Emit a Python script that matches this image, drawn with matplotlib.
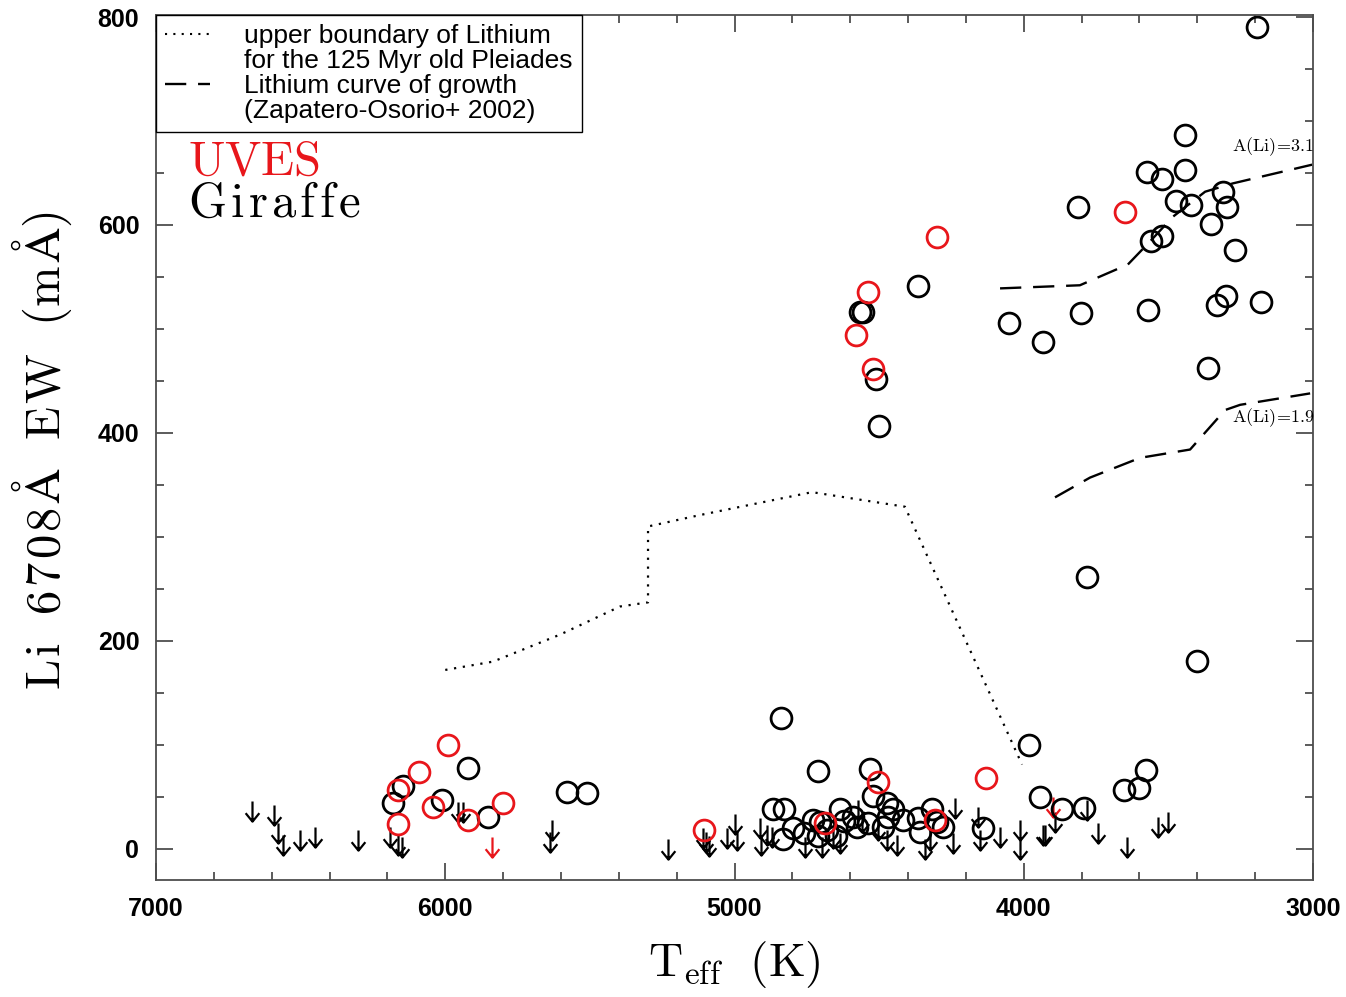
import numpy as np
import matplotlib
matplotlib.use('Agg')
import matplotlib.pyplot as plt
from matplotlib.path import Path
from matplotlib.lines import Line2D
from matplotlib.ticker import MultipleLocator

plt.rcParams['mathtext.fontset'] = 'cm'
plt.rcParams['font.family'] = ['Liberation Sans', 'DejaVu Sans']

# Pleiades upper boundary (dotted)
pleiades_teff = [6000, 5835, 5603, 5396, 5299, 5299, 5119, 4732, 4411, 4006]
pleiades_ew = [172, 180, 206, 233, 237, 310, 321, 343, 329, 81]

# curves of growth (dashed)
cog31_teff = [4082, 3806, 3640, 3564, 3484, 3373, 3277, 3003]
cog31_ew = [539, 542, 562, 584, 608, 632, 640, 658]
cog19_teff = [3892, 3771, 3598, 3425, 3304, 3252, 3010]
cog19_ew = [338, 357, 376, 384, 422, 427, 438]

# Giraffe detections
giraffe_teff = [3194, 3442, 3574, 3522, 3442, 3474, 3422, 3311, 3297, 3353,
                3522, 3560, 3270, 3812, 3802, 3570, 3332, 3301, 3180, 4051,
                3933, 4366, 3363, 3781, 3401, 4566, 4556, 4511, 4500, 4839,
                5921, 6146, 6181, 6011, 5852, 5579, 5510, 4711, 4532, 4521,
                3982, 3944, 3868, 3792, 3653, 3601, 3577,
                4867, 4829, 4798, 4832, 4729, 4706, 4711, 4635, 4590, 4576,
                4473, 4452, 4469, 4487, 4417, 4366, 4359, 4317, 4300, 4279,
                4141, 4760, 4680, 4620, 4540, 4650]
giraffe_ew = [790, 687, 651, 644, 653, 623, 619, 632, 617, 601,
              589, 585, 576, 617, 515, 518, 523, 532, 526, 506,
              487, 541, 462, 261, 181, 516, 516, 452, 407, 126,
              78, 60, 44, 47, 31, 55, 54, 75, 77, 51,
              100, 50, 38, 39, 57, 58, 76,
              38, 38, 20, 9, 28, 26, 12, 38, 31, 21,
              44, 38, 31, 21, 28, 30, 16, 38, 26, 21,
              20, 15, 18, 27, 25, 12]

# UVES detections
uves_teff = [4300, 4538, 4580, 4521, 3650, 4504, 4131, 5990, 6091, 6163,
             6163, 6042, 5921, 5800, 5105, 4687, 4307]
uves_ew = [588, 536, 494, 461, 612, 64, 68, 100, 74, 57,
           24, 40, 28, 44, 18, 25, 28]

# upper limits
giraffe_lim_teff = [6668, 6592, 6578, 6561, 6502, 6450, 6301, 6191, 6163, 6150,
                    5956, 5939, 5631, 5638, 5230, 5109, 5098, 5088, 5026, 4998,
                    4991, 4912, 4908, 4888, 4870, 4756, 4697, 4659, 4635, 4573,
                    4559, 4504, 4473, 4438, 4341, 4324, 4238, 4244, 4158, 4151,
                    4082, 4013, 4013, 3926, 3933, 3892, 3781, 3743, 3643, 3536,
                    3501]
giraffe_lim_ew = [46, 42, 25, 13, 18, 21, 18, 21, 13, 11,
                  45, 45, 28, 16, 9, 20, 16, 12, 20, 33,
                  18, 30, 13, 23, 21, 11, 11, 20, 15, 47,
                  35, 28, 18, 13, 9, 18, 49, 15, 40, 18,
                  21, 28, 9, 23, 23, 35, 47, 25, 11, 31,
                  35]
uves_lim_teff = [5838, 3899]
uves_lim_ew = [11, 50]

legend_labels = ['upper boundary of Lithium', 'for the 125 Myr old Pleiades',
                 'Lithium curve of growth', '(Zapatero-Osorio+ 2002)']

RED = '#e8161b'


def spaced(word, gap):
    # letter-spaced roman mathtext, like the old plotting font
    return (r'\hspace{%g}' % gap).join(word)


# down arrow marker, value at the top of the arrow
arrow = Path([(0, 0), (0, -1), (-0.34, -0.58), (0, -1), (0.34, -0.58)],
             [Path.MOVETO, Path.LINETO, Path.MOVETO, Path.LINETO, Path.LINETO])

fig = plt.figure(figsize=(13.46, 9.97), dpi=100)
ax = fig.add_axes([0.1159, 0.1174, 0.8596, 0.8676])

ax.plot(pleiades_teff, pleiades_ew, color='k', ls=(0, (1, 3)), lw=1.6)
ax.plot(cog31_teff, cog31_ew, color='k', ls=(0, (9, 5)), lw=1.7)
ax.plot(cog19_teff, cog19_ew, color='k', ls=(0, (9, 5)), lw=1.7)

ax.plot(giraffe_lim_teff, giraffe_lim_ew, ls='none', marker=arrow, ms=29,
        mfc='none', mec='k', mew=1.6)
ax.plot(uves_lim_teff, uves_lim_ew, ls='none', marker=arrow, ms=29,
        mfc='none', mec=RED, mew=1.6)
ax.plot(giraffe_teff, giraffe_ew, ls='none', marker='o', ms=15,
        mfc='none', mec='k', mew=2.0)
ax.plot(uves_teff, uves_ew, ls='none', marker='o', ms=15,
        mfc='none', mec=RED, mew=2.0)

ax.text(3280, 675, r'$\mathrm{A(Li)\!=\!3.1}$', fontsize=13, va='center', ha='left')
ax.text(3280, 415, r'$\mathrm{A(Li)\!=\!1.9}$', fontsize=13, va='center', ha='left')

ax.text(0.0277, 0.815, r'$\mathrm{UVES}$', transform=ax.transAxes,
        fontsize=35, color=RED, va='baseline')
ax.text(0.0277, 0.7665, r'$\mathrm{%s}$' % spaced('Giraffe', 0.1),
        transform=ax.transAxes, fontsize=35, color='k', va='baseline')

handles = [Line2D([], [], color='k', ls=(0, (1, 3)), lw=1.5),
           Line2D([], [], color='none'),
           Line2D([], [], color='k', ls=(0, (9, 5)), lw=1.7),
           Line2D([], [], color='none')]
leg = ax.legend(handles, legend_labels, loc='upper left', fontsize=19,
                borderaxespad=0, borderpad=0.35, handlelength=1.7,
                handletextpad=1.3, labelspacing=0.03, fancybox=False,
                framealpha=1)
leg.get_frame().set_edgecolor('k')
leg.get_frame().set_linewidth(1.0)

ax.set_xlim(7000, 3000)
ax.set_ylim(-30, 802)
ax.xaxis.set_major_locator(MultipleLocator(1000))
ax.xaxis.set_minor_locator(MultipleLocator(200))
ax.yaxis.set_major_locator(MultipleLocator(200))
ax.yaxis.set_minor_locator(MultipleLocator(50))
ax.tick_params(which='both', direction='in', top=True, right=True,
               width=1.2, color='0.25')
ax.tick_params(which='major', length=12, labelsize=18, pad=12)
ax.tick_params(which='minor', length=6)
for lab in ax.get_xticklabels() + ax.get_yticklabels():
    lab.set_fontweight('bold')
for sp in ax.spines.values():
    sp.set_color('0.3')
    sp.set_linewidth(1.3)

ax.set_xlabel(r'$\mathrm{T_{eff}\ \ (K)}$', fontsize=34, va='center')
ax.xaxis.set_label_coords(0.5, -0.098)
ylab = r'$\mathrm{%s\ \ %s\ \ %s\ \ (%s)}$' % (spaced('Li', 0.08),
                                              spaced('6708', 0.08) + r'\hspace{0.08}\AA',
                                              spaced('EW', 0.08), r'm\hspace{0.08}\AA')
ax.set_ylabel(ylab, fontsize=35, va='center')
ax.yaxis.set_label_coords(-0.0985, 0.497)

fig.savefig('out.png', dpi=100)
